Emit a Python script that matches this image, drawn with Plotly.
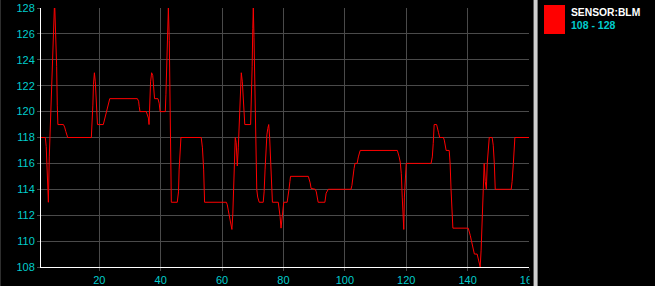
import plotly.graph_objects as go

# ---- data ----
sample_x = [
    1.0, 2.4, 2.7, 3.0, 3.2, 3.4, 3.7, 4.0, 4.4, 4.7, 5.0, 5.35, 5.5, 5.8, 6.1, 6.3, 6.5, 8.3, 8.7, 9.1, 9.5, 9.7,
    17.4, 17.6, 17.9, 18.1, 18.4, 18.7, 19.0, 19.2, 19.4, 21.3, 21.8, 22.3, 22.8, 23.4,
    32.4, 32.8, 33.0, 33.25, 35.3, 35.7, 36.0, 36.2, 36.4, 36.7, 37.05, 37.4, 37.7, 38.0, 39.1, 39.5, 39.8,
    41.5, 41.7, 42.0, 42.3, 42.5, 42.8, 43.0, 43.3, 43.46, 45.4, 45.8, 46.0, 46.3, 46.6,
    53.2, 53.6, 54.0, 54.2, 54.3, 61.4, 61.7, 62.0, 62.35, 62.7, 63.0, 63.2, 63.5, 63.8, 64.1, 64.3,
    64.6, 64.96, 65.28, 65.6, 65.9, 66.26, 66.6, 66.9, 67.2, 67.4,
    69.3, 69.5, 69.8, 70.0, 70.17, 70.4, 70.7, 71.0, 71.3, 71.6, 71.9, 72.1, 73.4, 73.7, 74.0, 74.3, 74.6,
    74.9, 75.2, 75.5, 75.8, 76.1, 76.4, 78.3, 78.6, 78.9, 79.2, 79.5, 79.8, 80.1, 81.2, 81.5, 81.8, 82.1,
    82.3, 88.1, 88.4, 88.7, 89.0, 90.4, 90.7, 91.0, 91.3, 93.5, 93.9, 94.6,
    102.0, 102.3, 102.6, 103.0, 103.3, 104.0, 104.4, 104.7, 105.0, 117.1, 117.4, 117.7, 118.05, 118.4,
    118.7, 119.0, 119.2, 119.4, 119.7, 120.0, 128.1, 128.5, 128.8, 129.1, 129.9, 130.2, 130.5, 130.9,
    132.1, 132.4, 132.7, 133.0, 134.0, 134.3, 134.6, 134.9, 135.2, 140.2, 140.5, 140.85, 141.2, 141.5,
    141.8, 142.2, 143.1, 143.5, 143.8, 144.1, 144.4, 144.8, 145.1, 145.4, 145.75, 146.1, 146.4, 146.7,
    147.05, 148.0, 148.35, 148.7, 149.0, 154.2, 154.5, 154.9, 155.2, 155.4, 160.0,
]
blm_value = [
    118, 118, 117.3, 115.5, 114, 113, 116.5, 118.8, 121.3, 124, 126.6, 128, 128, 126.4, 123.5, 120.5, 119, 119, 118.8, 118.45, 118.2, 118,
    118, 118.8, 120.5, 122.1, 123, 122.3, 121, 119.6, 119, 119, 119.5, 120, 120.5, 121,
    121, 120.8, 120.4, 120, 120, 119.74, 119.5, 119, 121, 122.3, 123, 122.8, 121.9, 121, 121, 120.65, 120,
    120, 121.3, 124, 126.6, 128, 125.5, 120.4, 115.5, 113, 113, 113.8, 115.5, 117.2, 118,
    118, 117.2, 115.5, 114, 113, 113, 112.8, 112.4, 111.9, 111.5, 111.1, 110.9, 112.1, 114, 116.4, 118,
    117.6, 115.8, 117.2, 119.7, 121.9, 123, 122.3, 121, 119.6, 119,
    119, 120.4, 123.5, 126.4, 128, 125.7, 121, 116.3, 114, 113.4, 113.2, 113, 113, 113.8, 115.5, 117.2, 118.2,
    118.7, 119, 118, 116, 114, 113, 113, 112.6, 111.9, 111, 111.9, 112.6, 113, 113, 113.4, 114, 114.6,
    115, 115, 114.8, 114.5, 114.07, 114, 113.8, 113.4, 113, 113, 113.7, 114,
    114, 114.3, 115, 115.6, 116, 116, 116.5, 116.8, 117, 117, 116.8, 116.5, 116.1, 115.2,
    113.4, 111.9, 110.9, 113.4, 115.2, 116, 116, 116.5, 117.55, 119, 119, 118.6, 118.4, 118,
    118, 117.8, 117.4, 117, 117, 116, 114, 112, 111, 111, 110.8, 110.45, 110.07, 109.7,
    109.3, 109, 109, 108.65, 108.3, 108, 109.3, 112, 115, 116, 114.6, 114, 116, 117.4,
    118, 118, 117.4, 116, 114, 114, 114.6, 116, 117.4, 118, 118,
]
series_name = "SENSOR:BLM"
range_label = "108 - 128"
x_range = [1, 160]
y_range = [108, 128]

CYAN = "#00CCCC"
GRID = "#4a4a4a"
FONT = "Liberation Sans Narrow, Arial Narrow, Arial, sans-serif"

fig = go.Figure()
fig.add_trace(go.Scatter(x=sample_x, y=blm_value, mode="lines",
                         line=dict(color="#FF0000", width=1), name=series_name,
                         showlegend=False))

L, R, T, B = 41, 126, 8, 19
W, H = 655, 286
pw, ph = W - L - R, H - T - B


def px(p):
    return (p - L) / pw


def py(p):
    return (H - B - p) / ph


shapes = [
    # cover right of plot area (clips last tick label)
    dict(type="rect", xref="paper", yref="paper", x0=px(529.5), x1=px(660), y0=-0.2, y1=1.2,
         fillcolor="#000000", line=dict(width=0), layer="above"),
    # separator
    dict(type="rect", xref="paper", yref="paper", x0=px(533), x1=px(534), y0=-0.2, y1=1.2,
         fillcolor="#5a5a5a", line=dict(width=0), layer="above"),
    dict(type="rect", xref="paper", yref="paper", x0=px(534), x1=px(537), y0=-0.2, y1=1.2,
         fillcolor="#cfcfcf", line=dict(width=0), layer="above"),
    dict(type="rect", xref="paper", yref="paper", x0=px(537), x1=px(538), y0=-0.2, y1=1.2,
         fillcolor="#7a7a7a", line=dict(width=0), layer="above"),
    # left edge
    dict(type="rect", xref="paper", yref="paper", x0=px(0), x1=px(1), y0=-0.2, y1=1.2,
         fillcolor="#2e2e2e", line=dict(width=0), layer="above"),
    # legend swatch
    dict(type="rect", xref="paper", yref="paper", x0=px(544), x1=px(565), y0=py(34), y1=py(5),
         fillcolor="#FF0000", line=dict(width=0), layer="above"),
]

annotations = [
    dict(xref="paper", yref="paper", x=px(569), y=py(12.5), xanchor="left", yanchor="middle",
         text="<b>" + series_name + "</b>", showarrow=False,
         font=dict(family="Arial, sans-serif", size=10.3, color="#FFFFFF")),
    dict(xref="paper", yref="paper", x=px(569), y=py(25.5), xanchor="left", yanchor="middle",
         text="<b>" + range_label + "</b>", showarrow=False,
         font=dict(family="Arial, sans-serif", size=10.5, color=CYAN)),
]

fig.update_layout(
    width=W, height=H,
    margin=dict(l=L, r=R, t=T, b=B, pad=0, autoexpand=False),
    paper_bgcolor="#000000", plot_bgcolor="#000000",
    shapes=shapes, annotations=annotations,
    showlegend=False,
    font=dict(family=FONT, size=11, color=CYAN),
)
fig.update_xaxes(range=x_range, tick0=0, dtick=20, showgrid=True, gridcolor=GRID, gridwidth=1,
                 zeroline=False, showline=True, linecolor="#FFFFFF", linewidth=1,
                 ticks="outside", ticklen=3, tickcolor=GRID, automargin=False,
                 tickfont=dict(family=FONT, size=11, color=CYAN))
fig.update_yaxes(range=y_range, tick0=108, dtick=2, showgrid=True, gridcolor=GRID, gridwidth=1,
                 zeroline=False, showline=True, linecolor="#FFFFFF", linewidth=1,
                 ticks="outside", ticklen=3, tickcolor=GRID, automargin=False,
                 tickfont=dict(family=FONT, size=11, color=CYAN))

fig.write_html("out.html")
